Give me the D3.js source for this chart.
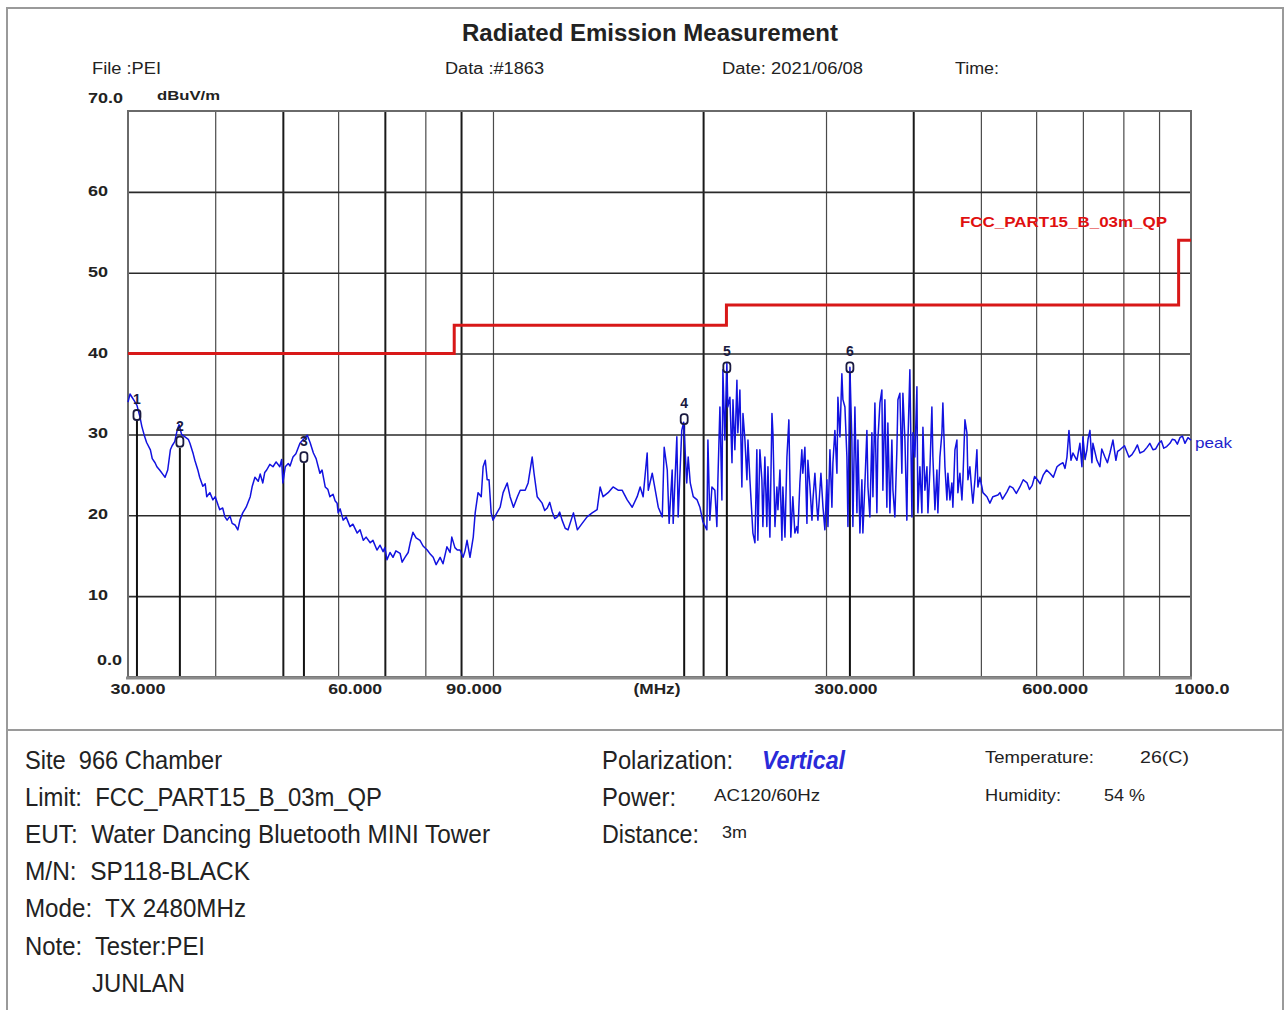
<!DOCTYPE html>
<html><head><meta charset="utf-8">
<script src="https://cdn.jsdelivr.net/npm/d3@7"></script>
<style>
html,body{margin:0;padding:0;background:#fff;}
svg{display:block;font-family:"Liberation Sans",Arial,sans-serif;}
svg text{white-space:pre;}
</style></head>
<body><svg id="chart" width="1285" height="1010"></svg>
<script>
// ---------- data ----------
const gridFreqs = [40,50,60,70,80,90,100,200,300,400,500,600,700,800,900];
const gridFreqsBold = [50,70,90,200,400];
const gridLevels = [10,20,30,40,50,60];
const xTickFreqs = [30,60,90,300,600,1000];
const xTickLabels = ["30.000","60.000","90.000","300.000","600.000","1000.0"];
const yTickValues = [10,20,30,40,50,60];
const yTickLabels = ["10","20","30","40","50","60"];
const limitFreqs  = [30,88,88,216,216,960,960,1000];
const limitLevels = [40,40,43.5,43.5,46,46,54,54];
const markerIds    = ["1","2","3","4","5","6"];
const markerFreqs  = [30.9,35.6,53.6,187.9,216.3,324.6];
const markerLevels = [32.4,29.1,27.2,31.9,38.3,38.3];
// peak trace: [frequency MHz, level dBuV/m]
const tracePoints = [
[30.0,34.0],[30.2,35.0],[30.4,34.6],[30.6,34.2],[30.9,33.6],[31.2,32.2],[31.4,31.0],[31.7,29.7],[31.9,29.0],[32.3,28.1],
[32.5,27.0],[32.8,26.5],[33.0,26.0],[33.3,25.6],[33.7,25.0],[33.9,24.7],[34.2,25.6],[34.5,28.1],[34.7,28.6],[35.0,29.1],
[35.3,30.6],[35.5,31.2],[35.8,30.0],[36.2,29.7],[36.6,29.4],[36.8,28.9],[37.2,27.6],[37.4,26.8],[37.8,25.5],[38.0,24.7],
[38.4,23.6],[38.7,23.9],[38.9,22.3],[39.3,22.8],[39.7,21.9],[40.0,22.3],[40.4,21.2],[40.6,20.7],[41.0,20.9],[41.3,19.8],
[41.6,19.4],[42.0,19.9],[42.3,19.0],[42.7,18.8],[43.1,18.2],[43.4,19.4],[43.8,20.3],[44.3,21.0],[44.9,22.3],[45.2,23.6],
[45.6,24.7],[46.1,24.2],[46.4,25.1],[46.8,24.0],[47.1,25.3],[47.4,25.6],[47.9,26.3],[48.4,26.0],[48.9,26.6],[49.5,26.0],
[49.8,26.9],[50.0,24.0],[50.4,26.0],[50.9,26.4],[51.2,26.1],[51.7,27.2],[52.2,27.6],[52.9,28.9],[53.4,29.3],[54.2,29.9],
[54.7,29.0],[55.3,27.7],[55.8,27.0],[56.5,25.2],[56.9,25.6],[57.5,23.5],[58.0,23.2],[58.4,22.3],[59.0,22.6],[59.4,21.8],
[59.8,21.5],[60.0,20.3],[60.4,20.8],[61.0,19.4],[61.6,19.8],[62.4,18.6],[63.0,18.9],[63.9,17.8],[64.5,18.2],[65.2,16.9],
[65.8,17.3],[66.7,16.6],[67.3,16.9],[68.2,15.7],[68.9,16.3],[69.6,15.5],[70.0,16.0],[70.5,14.5],[71.2,15.4],[71.9,14.8],
[72.6,15.6],[73.6,15.3],[74.1,14.2],[74.8,14.8],[75.6,15.4],[76.1,16.6],[76.8,17.9],[77.6,17.2],[78.6,16.9],[79.4,16.2],
[80.5,15.7],[81.3,15.2],[82.1,14.8],[82.9,13.9],[84.0,14.8],[84.8,14.0],[85.9,16.1],[86.8,15.4],[87.3,17.3],[88.2,16.0],
[88.9,15.7],[89.7,15.7],[90.6,14.8],[91.2,15.6],[91.8,16.9],[92.7,14.8],[93.7,17.3],[94.3,20.3],[95.2,22.8],[96.2,22.3],
[96.8,26.0],[97.5,26.8],[98.1,24.4],[98.7,24.4],[99.4,20.3],[100.0,19.4],[101.3,20.3],[102.4,21.0],[103.4,22.8],[104.8,24.0],
[105.8,22.3],[107.0,21.0],[108.4,22.3],[109.4,23.1],[111.2,23.1],[112.3,24.0],[113.8,27.2],[114.5,25.2],[115.7,22.3],[117.6,21.5],
[118.6,20.6],[119.6,20.9],[120.6,21.6],[121.6,20.4],[122.6,19.6],[123.6,19.8],[124.6,20.4],[125.6,19.4],[126.9,18.4],[128.1,18.2],
[130.4,20.3],[132.1,18.2],[134.2,19.0],[136.4,19.8],[138.7,20.3],[141.0,20.7],[142.4,23.5],[143.8,22.3],[146.2,22.8],[148.6,23.5],
[151.1,23.1],[153.1,23.1],[155.7,21.9],[158.3,21.0],[160.9,22.3],[162.5,23.5],[164.1,22.3],[166.3,27.7],[166.9,23.1],[169.1,25.2],
[170.8,23.1],[172.5,21.0],[174.8,19.8],[175.9,28.4],[177.7,25.6],[178.8,19.0],[180.6,25.6],[181.2,19.0],[183.4,29.7],[184.2,19.8],
[186.4,30.5],[187.6,31.5],[189.5,24.0],[190.4,27.2],[191.7,24.0],[193.6,22.3],[196.1,21.9],[197.9,21.0],[199.9,19.2],[202.5,18.2],
[203.2,29.3],[204.5,19.4],[205.9,23.5],[207.9,23.1],[209.3,18.6],[210.0,24.4],[211.4,33.4],[212.8,21.9],[213.5,38.0],[214.9,29.3],
[216.3,38.8],[217.0,33.4],[218.5,34.6],[220.0,26.5],[220.7,34.3],[222.1,28.1],[223.6,36.7],[224.3,30.2],[225.8,35.5],[227.3,23.5],
[228.1,32.6],[229.6,29.3],[231.1,24.4],[231.9,29.3],[233.4,24.4],[235.7,17.8],[237.3,16.6],[238.8,28.1],[239.6,16.9],[241.2,28.1],
[242.8,24.4],[243.6,18.6],[245.2,27.2],[246.8,18.6],[247.7,26.0],[249.3,17.3],[251.0,32.6],[251.8,30.2],[253.5,18.6],[255.1,23.5],
[256.0,20.7],[257.7,25.6],[259.4,16.9],[260.2,23.5],[262.0,17.3],[263.7,27.2],[265.4,31.8],[267.1,17.3],[268.9,22.3],[270.7,17.8],
[272.5,18.6],[273.4,17.8],[275.2,24.0],[277.0,28.1],[277.9,25.2],[279.8,28.4],[281.7,19.0],[282.6,26.8],[284.5,23.5],[286.4,19.4],
[287.3,21.9],[289.2,25.2],[291.1,21.0],[292.1,19.4],[295.0,25.2],[297.0,21.0],[298.9,18.2],[300.9,24.4],[301.9,18.6],[303.9,28.1],
[305.9,21.0],[306.9,26.5],[308.9,30.5],[311.0,25.2],[312.0,34.6],[314.1,29.7],[316.1,37.5],[317.2,34.3],[319.3,33.4],[321.4,27.2],
[322.5,18.6],[324.6,38.3],[326.7,29.3],[327.8,18.6],[330.0,33.4],[332.2,20.3],[333.3,29.3],[335.5,17.8],[337.7,24.4],[338.8,17.8],
[341.1,24.0],[343.3,30.5],[344.5,23.5],[346.7,19.8],[349.0,30.2],[350.2,22.3],[352.5,33.9],[354.8,20.3],[356.0,29.3],[358.4,33.9],
[360.7,35.5],[361.9,23.1],[364.3,34.3],[366.7,21.0],[367.9,31.4],[370.4,20.3],[372.8,29.3],[374.1,23.1],[376.5,19.8],[379.0,28.1],
[380.3,34.3],[382.8,35.1],[385.3,25.2],[386.6,35.1],[389.2,29.3],[391.7,19.4],[393.0,28.9],[395.6,38.0],[398.3,19.8],[399.6,30.2],
[402.2,27.2],[404.9,35.9],[406.2,20.3],[408.9,26.0],[411.6,20.3],[413.0,30.9],[415.7,23.1],[418.5,26.0],[419.9,20.3],[422.6,25.6],
[425.4,33.4],[426.8,27.2],[429.7,20.7],[432.5,25.6],[433.9,20.3],[436.8,27.2],[439.7,30.2],[441.1,33.9],[444.1,26.0],[447.0,21.9],
[448.5,25.2],[451.5,21.9],[454.4,24.0],[455.9,21.0],[459.0,28.1],[462.0,29.3],[463.5,22.8],[466.6,25.2],[469.7,21.9],[471.2,24.4],
[474.4,31.8],[477.5,30.2],[479.1,24.4],[482.2,26.0],[485.4,22.8],[487.0,21.5],[490.3,24.4],[493.5,28.1],[495.1,23.5],[498.4,24.7],
[501.7,23.5],[503.4,22.8],[510.1,22.3],[515.1,21.5],[520.2,22.3],[528.9,22.5],[532.4,22.8],[537.0,22.0],[544.9,22.9],[550.0,23.6],
[555.7,23.4],[562.0,22.7],[568.7,23.5],[575.0,24.4],[582.3,24.0],[587.0,23.2],[592.2,23.7],[597.0,24.8],[602.5,24.4],[608.0,23.9],
[614.4,25.0],[621.0,25.6],[627.9,25.2],[635.0,24.7],[642.7,26.0],[649.0,26.3],[655.5,26.5],[660.0,25.8],[664.2,27.2],[668.6,30.5],
[673.0,26.8],[677.5,27.7],[686.4,26.8],[693.2,28.9],[697.8,26.0],[700.1,29.7],[705.0,26.9],[709.4,28.1],[712.0,29.4],[716.5,30.5],
[721.2,26.5],[723.6,28.9],[733.2,26.8],[740.5,26.0],[745.0,28.2],[752.8,27.2],[759.0,26.5],[765.4,27.7],[773.0,29.3],[780.6,26.8],
[785.0,27.9],[791.0,28.1],[803.0,28.6],[814.9,27.2],[823.0,27.5],[831.1,28.1],[838.0,28.7],[845.0,27.7],[855.0,27.9],[864.9,28.4],
[873.0,28.9],[882.1,28.1],[890.0,28.2],[899.2,28.9],[907.0,29.2],[914.1,28.3],[923.0,28.5],[932.9,28.9],[940.0,29.4],[948.4,29.3],
[956.0,28.8],[964.2,29.6],[972.0,29.8],[980.2,28.9],[990.0,29.6],[1000.0,29.3]
];

// ---------- layout ----------
const svg = d3.select("#chart");
const L = 128, R = 1191, T = 111, B = 677;
const x = d3.scaleLog().domain([30,1000]).range([L,R]);
const y = d3.scaleLinear().domain([0,70]).range([B,T]);

// outer frame
svg.append("rect").attr("x",7).attr("y",8).attr("width",1276).attr("height",1020)
  .attr("fill","none").attr("stroke","#9a9a9a").attr("stroke-width",2);
svg.append("line").attr("x1",7).attr("x2",1283).attr("y1",730).attr("y2",730)
  .attr("stroke","#9a9a9a").attr("stroke-width",2);

function txt(s, cx, cy, opts){
  const o = Object.assign({size:16, weight:"normal", fill:"#222", anchor:"start", style:"normal"}, opts||{});
  const t = svg.append("text").attr("x",cx).attr("y",cy).attr("dy","0.36em")
    .attr("font-size",o.size).attr("font-weight",o.weight).attr("font-style",o.style)
    .attr("fill",o.fill).attr("text-anchor",o.anchor).text(s);
  if (o.len) t.attr("textLength",o.len).attr("lengthAdjust","spacingAndGlyphs");
  return t;
}

// header
txt("Radiated Emission Measurement", 462, 33, {size:23, weight:"bold", len:376});
txt("File :PEI", 92, 68, {size:16, len:69});
txt("Data :#1863", 445, 68, {size:16, len:99});
txt("Date: 2021/06/08", 722, 68, {size:16, len:141});
txt("Time:", 955, 68, {size:16, len:44});
txt("70.0", 88, 98, {size:14, weight:"bold", len:35});
txt("dBuV/m", 157, 95, {size:13, weight:"bold", len:63});

// grid via axes
const gx = svg.append("g").attr("transform",`translate(0,${B})`)
  .call(d3.axisBottom(x).tickValues(gridFreqs).tickSize(-(B-T)).tickFormat(""));
gx.select(".domain").remove();
gx.selectAll(".tick line").attr("stroke", d => gridFreqsBold.includes(d) ? "#1a1a1a" : "#4a4a4a")
  .attr("stroke-width", d => gridFreqsBold.includes(d) ? 2 : 1.2);
const gy = svg.append("g").attr("transform",`translate(${L},0)`)
  .call(d3.axisLeft(y).tickValues(gridLevels).tickSize(-(R-L)).tickFormat(""));
gy.select(".domain").remove();
gy.selectAll(".tick line").attr("stroke","#2a2a2a").attr("stroke-width",1.6);

// marker drop lines
markerFreqs.forEach((f,i)=>{
  svg.append("line").attr("x1",x(f)).attr("x2",x(f)).attr("y1",y(markerLevels[i])+6).attr("y2",B)
    .attr("stroke","#111").attr("stroke-width",2);
});

// plot frame
svg.append("rect").attr("x",L).attr("y",T).attr("width",R-L).attr("height",B-T)
  .attr("fill","none").attr("stroke","#6a6a6a").attr("stroke-width",2);
svg.append("line").attr("x1",L-2).attr("x2",R+1).attr("y1",B+1).attr("y2",B+1)
  .attr("stroke","#8a8a8a").attr("stroke-width",3);

// y labels
yTickValues.forEach((v,i)=>{
  txt(yTickLabels[i], 108, y(v)-1, {size:14, weight:"bold", anchor:"end", len:20});
});
txt("0.0", 97, 660, {size:14, weight:"bold", len:25});

// x labels
const xLabelLens = [55,54,56,63,66,55];
const xLabelOff  = [10,17,13,20,19,11];
xTickFreqs.forEach((f,i)=>{
  txt(xTickLabels[i], x(f)+xLabelOff[i], 689, {size:14, weight:"bold", anchor:"middle", len:xLabelLens[i]});
});
txt("(MHz)", 657, 689, {size:14, weight:"bold", anchor:"middle", len:47});

// limit line
const limitLine = d3.line().x((d,i)=>x(limitFreqs[i])).y((d,i)=>y(limitLevels[i]));
svg.append("path").attr("d", limitLine(limitFreqs)).attr("fill","none")
  .attr("stroke","#d81818").attr("stroke-width",3);
txt("FCC_PART15_B_03m_QP", 960, 222, {size:14, weight:"bold", fill:"#e01010", len:207});

// trace
const traceLine = d3.line().x(d=>x(d[0])).y(d=>y(d[1]));
svg.append("path").attr("d", traceLine(tracePoints.slice().sort((a,b)=>a[0]-b[0]))).attr("fill","none")
  .attr("stroke","#1212e0").attr("stroke-width",1.5).attr("stroke-linejoin","round");
txt("peak", 1195, 443, {size:15, fill:"#2222cc", len:37});

// markers: number above an "o" symbol
markerFreqs.forEach((f,i)=>{
  const mx = x(f), my = y(markerLevels[i]);
  svg.append("rect").attr("x",mx-3.5).attr("y",my-5).attr("width",7).attr("height",10)
    .attr("rx",3).attr("fill","none").attr("stroke","#1a1a40").attr("stroke-width",1.8);
  txt(markerIds[i], mx, my-16, {size:14, weight:"bold", fill:"#1a1a40", anchor:"middle"});
});

// bottom info
const leftLines = [
  ["Site  966 Chamber", 25, 760, 197],
  ["Limit:  FCC_PART15_B_03m_QP", 25, 797, 357],
  ["EUT:  Water Dancing Bluetooth MINI Tower", 25, 834, 465],
  ["M/N:  SP118-BLACK", 25, 871, 225],
  ["Mode:  TX 2480MHz", 25, 908, 221],
  ["Note:  Tester:PEI", 25, 946, 180],
  ["JUNLAN", 92, 983, 93]
];
leftLines.forEach(l=>txt(l[0], l[1], l[2], {size:25, len:l[3]}));
txt("Polarization:", 602, 760, {size:25, len:131});
txt("Vertical", 762, 760, {size:25, weight:"bold", style:"italic", fill:"#2a2ad8", len:83});
txt("Power:", 602, 797, {size:25, len:74});
txt("AC120/60Hz", 714, 795, {size:17, len:106});
txt("Distance:", 602, 834, {size:25, len:97});
txt("3m", 722, 832, {size:16, len:25});
txt("Temperature:", 985, 757, {size:17, len:109});
txt("26(C)", 1140, 757, {size:17, len:49});
txt("Humidity:", 985, 795, {size:17, len:76});
txt("54 %", 1104, 795, {size:17, len:41});
</script></body></html>
